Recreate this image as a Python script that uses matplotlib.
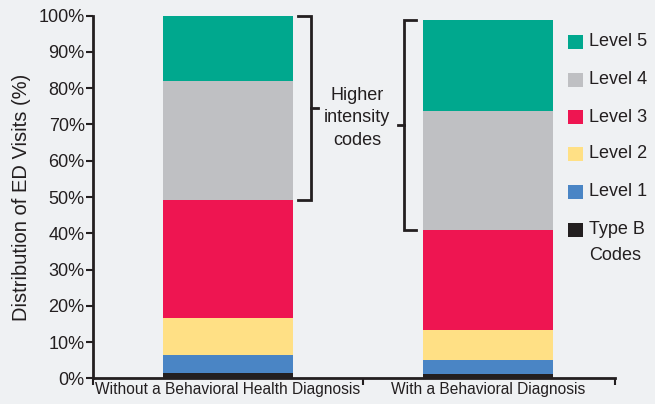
import matplotlib
matplotlib.use("Agg")
import matplotlib.pyplot as plt
from matplotlib.patches import Rectangle
from matplotlib.ticker import FixedLocator

plt.rcParams['font.family'] = ['Liberation Sans', 'DejaVu Sans']

categories = ["Without a Behavioral Health Diagnosis", "With a Behavioral Diagnosis"]
levels = ["Type B\nCodes", "Level 1", "Level 2", "Level 3", "Level 4", "Level 5"]
type_b = [1.5, 1.2]
level1 = [4.8, 3.8]
level2 = [10.4, 8.3]
level3 = [32.5, 27.6]
level4 = [32.7, 32.8]
level5 = [18.1, 25.1]
series = [type_b, level1, level2, level3, level4, level5]
colors = ["#231f20", "#4a85c5", "#ffe085", "#ee1551", "#bfc0c3", "#00a88e"]
yticks = list(range(0, 101, 10))
ytick_labels = [f"{v}%" for v in yticks]

BG = "#eff1f3"
INK = "#231f20"
W, H = 655, 404

fig = plt.figure(figsize=(W / 100, H / 100), dpi=100, facecolor=BG)
ax = fig.add_axes([93 / W, 1 - 378.3 / H, (615 - 93) / W, (378.3 - 15.7) / H])
ax.set_facecolor(BG)

x = [0, 1]
bottom = [0.0, 0.0]
for vals, col in zip(series, colors):
    ax.bar(x, vals, width=0.5, bottom=bottom, color=col, edgecolor="none", linewidth=0)
    bottom = [b + v for b, v in zip(bottom, vals)]

ax.set_xlim(-0.52, 1.49)
ax.set_ylim(0, 100)

for s in ["top", "right"]:
    ax.spines[s].set_visible(False)
for s in ["left", "bottom"]:
    ax.spines[s].set_color(INK)
    ax.spines[s].set_linewidth(2)

ax.set_yticks(yticks)
ax.set_yticklabels(ytick_labels)
ax.tick_params(axis="y", length=5, width=1.5, color=INK, labelsize=13, labelcolor=INK, pad=1)

ax.xaxis.set_major_locator(FixedLocator([-0.52, 0.52, 1.49]))
ax.xaxis.set_minor_locator(FixedLocator(x))
ax.set_xticklabels([], minor=False)
ax.set_xticklabels(categories, minor=True)
ax.tick_params(axis="x", which="major", length=5, width=1.5, color=INK)
ax.tick_params(axis="x", which="minor", length=0, labelsize=11.2, labelcolor=INK, pad=3)

ax.set_ylabel("Distribution of ED Visits (%)", fontsize=14.5, color=INK, labelpad=5)

# Brackets
tot1 = sum(s[0] for s in series)
tot2 = sum(s[1] for s in series)
lo1 = type_b[0] + level1[0] + level2[0] + level3[0]
lo2 = type_b[1] + level1[1] + level2[1] + level3[1]
kw = dict(color=INK, lw=2, clip_on=False, solid_joinstyle="miter")
ax.plot([0.269, 0.319, 0.319, 0.269], [tot1, tot1, lo1, lo1], **kw)
ax.plot([0.319, 0.346], [(tot1 + lo1) / 2] * 2, **kw)
ax.plot([0.723, 0.677, 0.677, 0.723], [tot2, tot2, lo2, lo2], **kw)
ax.plot([0.677, 0.654], [(tot2 + lo2) / 2] * 2, **kw)
ax.text(0.497, 71.8, "Higher\nintensity\ncodes", ha="center", va="center",
        fontsize=13, color=INK, linespacing=1.45)

# Legend drawn manually
rows_y = [230, 192, 154, 117, 80, 42]
for lab, col, yc in zip(levels, colors, rows_y):
    fig.patches.append(Rectangle((568 / W, 1 - (yc + 7) / H), 15 / W, 14 / H,
                                 transform=fig.transFigure, facecolor=col, edgecolor="none"))
    lines = lab.split("\n")
    for i, ln in enumerate(lines):
        fig.text(589 / W, 1 - (yc + i * 26) / H, ln, ha="left", va="center",
                 fontsize=13, color=INK)

fig.savefig("out.png", dpi=100, facecolor=BG)
